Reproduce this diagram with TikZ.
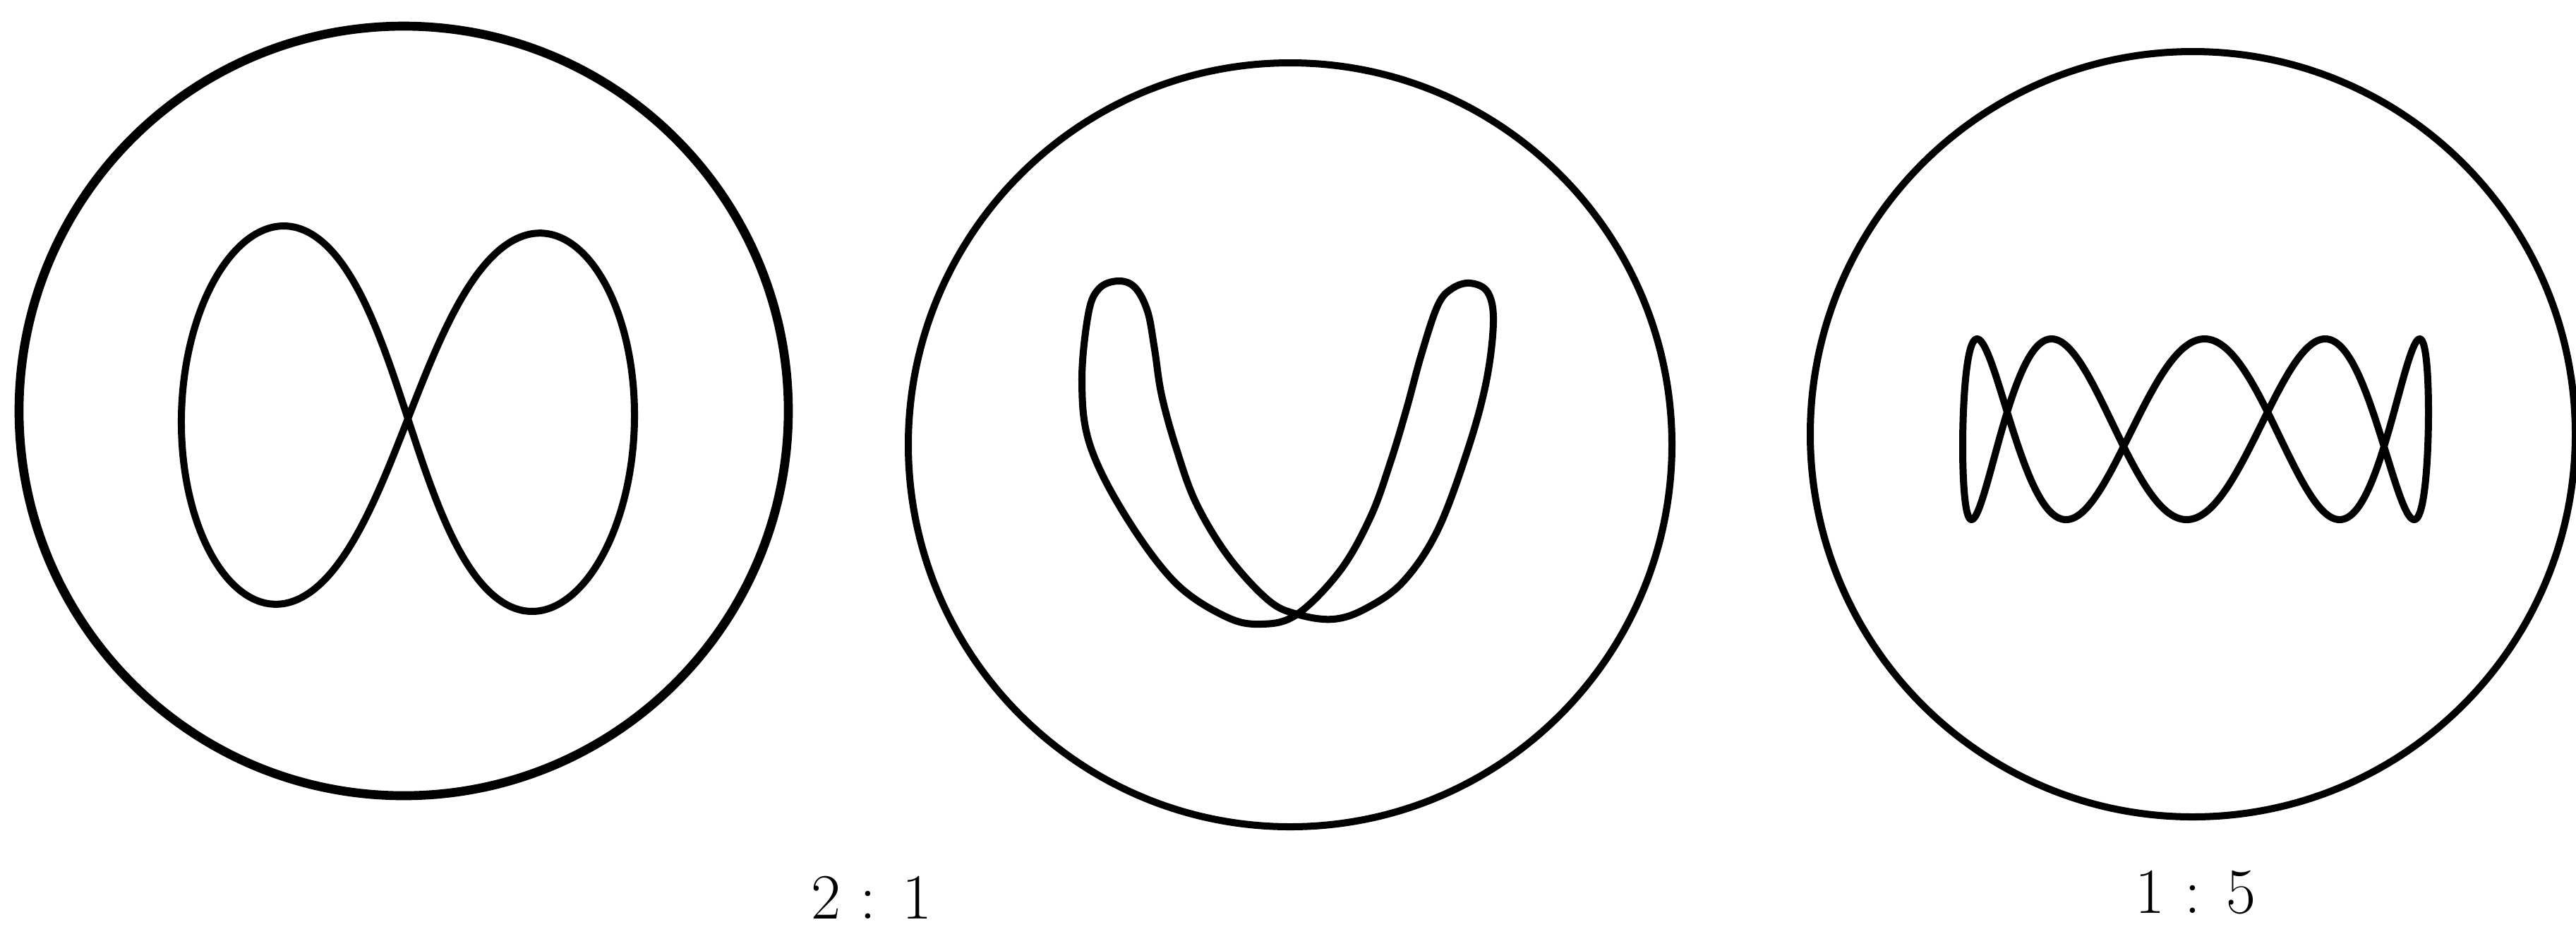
\documentclass[tikz,border=0pt]{standalone}
\usepackage{tikz}
\usetikzlibrary{positioning}
\definecolor{ink}{HTML}{000000}
\tikzset{
  % --- shapes
  screen/.style = {draw=ink, line width=2.85pt},
  trace/.style  = {draw=ink, line width=2.85pt, line join=round},
  % --- text
  ratio/.style  = {font=\fontsize{26}{30}\selectfont, text=ink, inner sep=0pt, anchor=base},
}
\begin{document}
\begin{tikzpicture}
  \useasboundingbox (0,0) rectangle (36.5,-13.12);
  % screens
  \draw[screen, line width=3.6pt] (5.72,-5.82) circle (5.45);
  \draw[screen] (18.28,-6.30) circle (5.41);
  \draw[screen] (31.07,-6.15) circle (5.42);
  % figure eight
  \begin{scope}[shift={(5.78,-5.93)}, rotate=-1.6]
    \draw[trace] plot[domain=0:360, samples=241, smooth, variable=\t]
      ({3.21*sin(\t)*(1-0.25*cos(2*\t))/1.25}, {2.68*sin(2*\t)}) -- cycle;
  \end{scope}
  % open loop
  \draw[trace] plot[smooth cycle, tension=0.6] coordinates {
    (15.42,-4.45) (15.33,-5.40) (15.44,-6.29) (15.93,-7.28) (16.64,-8.24)
    (17.36,-8.73) (17.87,-8.84) (18.38,-8.70) (18.99,-8.08) (19.42,-7.32)
    (19.70,-6.55) (19.93,-5.79) (20.14,-5.02) (20.37,-4.33) (20.57,-4.09)
    (20.83,-4.01) (21.08,-4.14) (21.16,-4.56) (21.06,-5.40) (20.80,-6.36)
    (20.37,-7.51) (19.88,-8.24) (19.35,-8.62) (18.89,-8.77) (18.38,-8.70)
    (17.97,-8.50) (17.41,-7.89) (16.95,-7.13) (16.67,-6.36) (16.46,-5.60)
    (16.36,-4.95) (16.26,-4.41) (16.08,-4.07) (15.84,-3.98) (15.57,-4.09)};
  % five lobes
  \begin{scope}[shift={(31.11,-6.08)}]
    \draw[trace] plot[domain=0:360, samples=361, smooth, variable=\t]
      ({3.30*cos(\t)}, {1.28*sin(5*\t+11)}) -- cycle;
  \end{scope}
  \node[ratio] (r21) at (12.35,-13.01) {2 : 1};
  \node[ratio] (r15) at (31.11,-12.93) {1 : 5};
\end{tikzpicture}
\end{document}
